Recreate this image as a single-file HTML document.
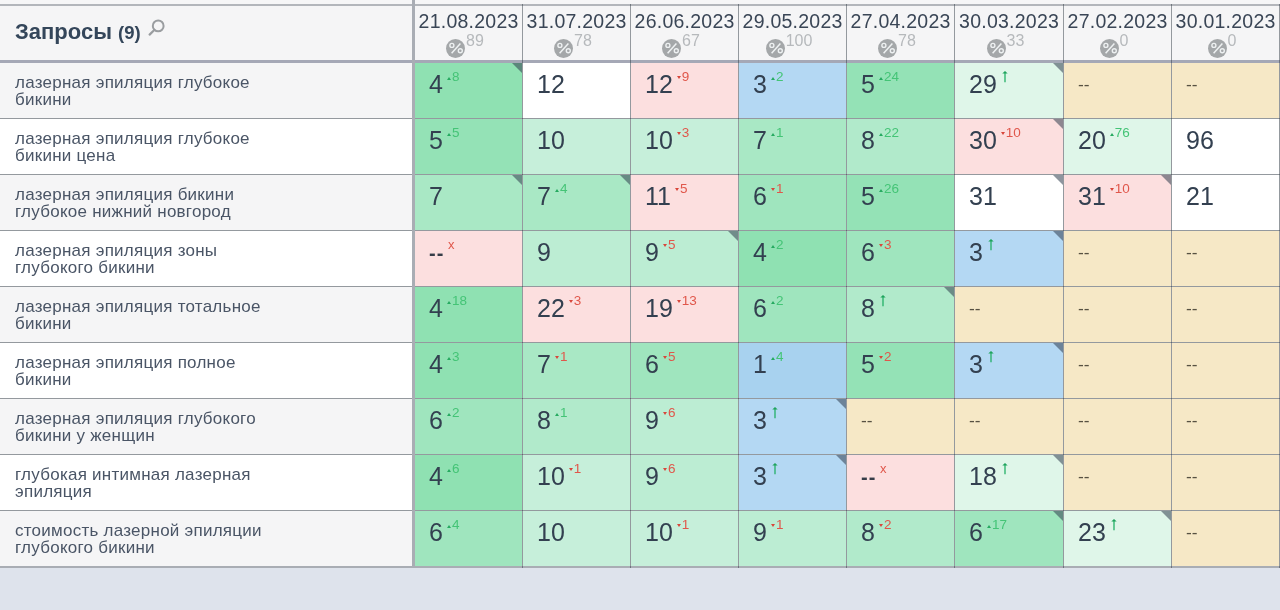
<!DOCTYPE html><html><head><meta charset="utf-8"><style>
*{margin:0;padding:0;box-sizing:border-box}
html,body{width:1280px;height:610px;overflow:hidden;background:#f6f6f7}
body{position:relative;font-family:"Liberation Sans",Arial,sans-serif;-webkit-font-smoothing:antialiased}
.wrap{position:absolute;left:0;top:0;width:1280px;height:610px;will-change:transform}
.a{position:absolute}
.foot{left:0;top:568px;width:1280px;height:42px;background:#dee3ec}
.hl{position:absolute;left:0;width:1280px;height:1px;background:rgba(50,60,70,.5)}
.vl{position:absolute;width:1px;background:rgba(50,60,70,.5)}
.hd{position:absolute;top:6px;height:54px;background:#f5f5f6}
.dt{position:absolute;left:0;right:0;top:8px;text-align:center;font-size:19.5px;line-height:24px;color:#3a4656;white-space:nowrap;letter-spacing:0.25px;text-indent:0.25px}
.pc{position:absolute;left:0;right:0;top:30px;text-align:center;white-space:nowrap;height:30px}
.pcin{display:inline-block;position:relative;height:30px;padding-right:7px}
.pcc{display:inline-block;vertical-align:top;margin-top:9px;width:19px;height:19px;border-radius:50%;background:#a4a7a9;position:relative}
.pcn{display:inline-block;vertical-align:top;font-size:16px;line-height:18px;margin-top:2px;color:#b6b9bc;margin-left:1px}
.kw{position:absolute;left:0;width:412px;height:55px}
.kwt{position:absolute;left:15px;top:12px;font-size:17px;line-height:16.5px;color:#4a5566;white-space:nowrap;letter-spacing:0.25px}
.c{position:absolute;height:55px;overflow:hidden}
.v{position:absolute;top:0;left:14px;font-size:25px;line-height:42px;color:#334050;white-space:nowrap}
.dl{display:inline-block;vertical-align:top;font-size:13.5px;line-height:13px;margin-top:7px;margin-left:4px}
.up{color:#44c476}
.dn{color:#e0574b}
.tri{display:inline-block;width:0;height:0;border-left:2.5px solid transparent;border-right:2.5px solid transparent;vertical-align:top;margin-right:1px}
.tu{border-bottom:3px solid #26aa60;margin-top:7px}
.td{border-top:3px solid #d8463b;margin-top:6px}
.dash{position:absolute;top:0;left:14px;font-family:'DejaVu Sans',sans-serif;font-size:16px;line-height:44px;color:#575142}
.dashb{position:absolute;top:0;left:14px;font-size:20px;font-weight:bold;line-height:45px;color:#363d48;letter-spacing:1px}
.xx{position:absolute;left:33px;top:7px;font-size:13px;line-height:13px;color:#e0574b}
.cor{position:absolute;right:0;top:0;width:0;height:0;border-top:10px solid rgba(50,62,78,.55);border-left:10px solid transparent}
.g4{background:#8fe1b2}.g5{background:#94e2b6}.g6{background:#9fe5be}.g7{background:#a9e8c5}
.g8{background:#b1eacb}.g9{background:#bcedd3}.g10{background:#c6efda}
.lg{background:#dff6e9}.pk{background:#fcdfdf}.wh{background:#ffffff}.be{background:#f6e8c6}
.bl{background:#b4d8f3}.bl1{background:#a8d2ef}
</style></head><body><div class="wrap">
<div class="a foot"></div>
<div class="hd" style="left:0;width:412px"></div>
<div class="a" style="left:15px;top:18px;font-size:22px;line-height:28px;font-weight:bold;color:#34465a;white-space:nowrap">Запросы <span style="font-size:18.5px">(9)</span></div>
<svg class="a" style="left:146px;top:17px" width="22" height="20" viewBox="0 0 22 20"><circle cx="12.2" cy="8.9" r="5.4" fill="none" stroke="#9a9da0" stroke-width="2"/><line x1="8.3" y1="13" x2="3.6" y2="17.6" stroke="#9a9da0" stroke-width="2.2" stroke-linecap="round"/></svg>
<div class="hd" style="left:415px;width:107px"><div class="dt" style="top:3px">21.08.2023</div><div class="pc" style="top:24px"><span class="pcin"><span class="pcc"><svg width="19" height="19" viewBox="0 0 19 19" style="position:absolute;left:0;top:0"><circle cx="5.9" cy="6.4" r="2" fill="none" stroke="#eef1f2" stroke-width="1.4"/><circle cx="14.3" cy="11.8" r="2" fill="none" stroke="#eef1f2" stroke-width="1.4"/><line x1="5.6" y1="14.3" x2="14.4" y2="4.4" stroke="#eef1f2" stroke-width="1.5"/></svg></span><span class="pcn">89</span></span></div></div>
<div class="hd" style="left:523px;width:107px"><div class="dt" style="top:3px">31.07.2023</div><div class="pc" style="top:24px"><span class="pcin"><span class="pcc"><svg width="19" height="19" viewBox="0 0 19 19" style="position:absolute;left:0;top:0"><circle cx="5.9" cy="6.4" r="2" fill="none" stroke="#eef1f2" stroke-width="1.4"/><circle cx="14.3" cy="11.8" r="2" fill="none" stroke="#eef1f2" stroke-width="1.4"/><line x1="5.6" y1="14.3" x2="14.4" y2="4.4" stroke="#eef1f2" stroke-width="1.5"/></svg></span><span class="pcn">78</span></span></div></div>
<div class="hd" style="left:631px;width:107px"><div class="dt" style="top:3px">26.06.2023</div><div class="pc" style="top:24px"><span class="pcin"><span class="pcc"><svg width="19" height="19" viewBox="0 0 19 19" style="position:absolute;left:0;top:0"><circle cx="5.9" cy="6.4" r="2" fill="none" stroke="#eef1f2" stroke-width="1.4"/><circle cx="14.3" cy="11.8" r="2" fill="none" stroke="#eef1f2" stroke-width="1.4"/><line x1="5.6" y1="14.3" x2="14.4" y2="4.4" stroke="#eef1f2" stroke-width="1.5"/></svg></span><span class="pcn">67</span></span></div></div>
<div class="hd" style="left:739px;width:107px"><div class="dt" style="top:3px">29.05.2023</div><div class="pc" style="top:24px"><span class="pcin"><span class="pcc"><svg width="19" height="19" viewBox="0 0 19 19" style="position:absolute;left:0;top:0"><circle cx="5.9" cy="6.4" r="2" fill="none" stroke="#eef1f2" stroke-width="1.4"/><circle cx="14.3" cy="11.8" r="2" fill="none" stroke="#eef1f2" stroke-width="1.4"/><line x1="5.6" y1="14.3" x2="14.4" y2="4.4" stroke="#eef1f2" stroke-width="1.5"/></svg></span><span class="pcn">100</span></span></div></div>
<div class="hd" style="left:847px;width:107px"><div class="dt" style="top:3px">27.04.2023</div><div class="pc" style="top:24px"><span class="pcin"><span class="pcc"><svg width="19" height="19" viewBox="0 0 19 19" style="position:absolute;left:0;top:0"><circle cx="5.9" cy="6.4" r="2" fill="none" stroke="#eef1f2" stroke-width="1.4"/><circle cx="14.3" cy="11.8" r="2" fill="none" stroke="#eef1f2" stroke-width="1.4"/><line x1="5.6" y1="14.3" x2="14.4" y2="4.4" stroke="#eef1f2" stroke-width="1.5"/></svg></span><span class="pcn">78</span></span></div></div>
<div class="hd" style="left:955px;width:108px"><div class="dt" style="top:3px">30.03.2023</div><div class="pc" style="top:24px"><span class="pcin"><span class="pcc"><svg width="19" height="19" viewBox="0 0 19 19" style="position:absolute;left:0;top:0"><circle cx="5.9" cy="6.4" r="2" fill="none" stroke="#eef1f2" stroke-width="1.4"/><circle cx="14.3" cy="11.8" r="2" fill="none" stroke="#eef1f2" stroke-width="1.4"/><line x1="5.6" y1="14.3" x2="14.4" y2="4.4" stroke="#eef1f2" stroke-width="1.5"/></svg></span><span class="pcn">33</span></span></div></div>
<div class="hd" style="left:1064px;width:107px"><div class="dt" style="top:3px">27.02.2023</div><div class="pc" style="top:24px"><span class="pcin"><span class="pcc"><svg width="19" height="19" viewBox="0 0 19 19" style="position:absolute;left:0;top:0"><circle cx="5.9" cy="6.4" r="2" fill="none" stroke="#eef1f2" stroke-width="1.4"/><circle cx="14.3" cy="11.8" r="2" fill="none" stroke="#eef1f2" stroke-width="1.4"/><line x1="5.6" y1="14.3" x2="14.4" y2="4.4" stroke="#eef1f2" stroke-width="1.5"/></svg></span><span class="pcn">0</span></span></div></div>
<div class="hd" style="left:1172px;width:107px"><div class="dt" style="top:3px">30.01.2023</div><div class="pc" style="top:24px"><span class="pcin"><span class="pcc"><svg width="19" height="19" viewBox="0 0 19 19" style="position:absolute;left:0;top:0"><circle cx="5.9" cy="6.4" r="2" fill="none" stroke="#eef1f2" stroke-width="1.4"/><circle cx="14.3" cy="11.8" r="2" fill="none" stroke="#eef1f2" stroke-width="1.4"/><line x1="5.6" y1="14.3" x2="14.4" y2="4.4" stroke="#eef1f2" stroke-width="1.5"/></svg></span><span class="pcn">0</span></span></div></div>
<div class="kw" style="top:63px;background:#f5f5f6"><div class="kwt">лазерная эпиляция глубокое<br>бикини</div></div>
<div class="c g4" style="left:415px;top:63px;width:107px"><div class="v">4<span class="dl up"><span class="tri tu"></span>8</span></div><div class="cor"></div></div>
<div class="c wh" style="left:523px;top:63px;width:107px"><div class="v">12</div></div>
<div class="c pk" style="left:631px;top:63px;width:107px"><div class="v">12<span class="dl dn"><span class="tri td"></span>9</span></div></div>
<div class="c bl" style="left:739px;top:63px;width:107px"><div class="v">3<span class="dl up"><span class="tri tu"></span>2</span></div></div>
<div class="c g5" style="left:847px;top:63px;width:107px"><div class="v">5<span class="dl up"><span class="tri tu"></span>24</span></div></div>
<div class="c lg" style="left:955px;top:63px;width:108px"><div class="v">29<svg width="8" height="14" viewBox="0 0 8 14" style="vertical-align:top;margin-top:7px;margin-left:4px"><path d="M4 12.2V3" stroke="#22b066" stroke-width="1.3"/><path d="M1.3 3.6L4 0.9L6.7 3.6Z" fill="#1fa35d"/></svg></div><div class="cor"></div></div>
<div class="c be" style="left:1064px;top:63px;width:107px"><div class="dash">--</div></div>
<div class="c be" style="left:1172px;top:63px;width:107px"><div class="dash">--</div></div>
<div class="kw" style="top:119px;background:#ffffff"><div class="kwt">лазерная эпиляция глубокое<br>бикини цена</div></div>
<div class="c g5" style="left:415px;top:119px;width:107px"><div class="v">5<span class="dl up"><span class="tri tu"></span>5</span></div></div>
<div class="c g10" style="left:523px;top:119px;width:107px"><div class="v">10</div></div>
<div class="c g10" style="left:631px;top:119px;width:107px"><div class="v">10<span class="dl dn"><span class="tri td"></span>3</span></div></div>
<div class="c g7" style="left:739px;top:119px;width:107px"><div class="v">7<span class="dl up"><span class="tri tu"></span>1</span></div></div>
<div class="c g8" style="left:847px;top:119px;width:107px"><div class="v">8<span class="dl up"><span class="tri tu"></span>22</span></div></div>
<div class="c pk" style="left:955px;top:119px;width:108px"><div class="v">30<span class="dl dn"><span class="tri td"></span>10</span></div><div class="cor"></div></div>
<div class="c lg" style="left:1064px;top:119px;width:107px"><div class="v">20<span class="dl up"><span class="tri tu"></span>76</span></div></div>
<div class="c wh" style="left:1172px;top:119px;width:107px"><div class="v">96</div></div>
<div class="kw" style="top:175px;background:#f5f5f6"><div class="kwt">лазерная эпиляция бикини<br>глубокое нижний новгород</div></div>
<div class="c g7" style="left:415px;top:175px;width:107px"><div class="v">7</div><div class="cor"></div></div>
<div class="c g7" style="left:523px;top:175px;width:107px"><div class="v">7<span class="dl up"><span class="tri tu"></span>4</span></div><div class="cor"></div></div>
<div class="c pk" style="left:631px;top:175px;width:107px"><div class="v">11<span class="dl dn"><span class="tri td"></span>5</span></div></div>
<div class="c g6" style="left:739px;top:175px;width:107px"><div class="v">6<span class="dl dn"><span class="tri td"></span>1</span></div></div>
<div class="c g5" style="left:847px;top:175px;width:107px"><div class="v">5<span class="dl up"><span class="tri tu"></span>26</span></div></div>
<div class="c wh" style="left:955px;top:175px;width:108px"><div class="v">31</div><div class="cor"></div></div>
<div class="c pk" style="left:1064px;top:175px;width:107px"><div class="v">31<span class="dl dn"><span class="tri td"></span>10</span></div><div class="cor"></div></div>
<div class="c wh" style="left:1172px;top:175px;width:107px"><div class="v">21</div></div>
<div class="kw" style="top:231px;background:#ffffff"><div class="kwt">лазерная эпиляция зоны<br>глубокого бикини</div></div>
<div class="c pk" style="left:415px;top:231px;width:107px"><div class="dashb">--</div><div class="xx">x</div></div>
<div class="c g9" style="left:523px;top:231px;width:107px"><div class="v">9</div></div>
<div class="c g9" style="left:631px;top:231px;width:107px"><div class="v">9<span class="dl dn"><span class="tri td"></span>5</span></div><div class="cor"></div></div>
<div class="c g4" style="left:739px;top:231px;width:107px"><div class="v">4<span class="dl up"><span class="tri tu"></span>2</span></div></div>
<div class="c g6" style="left:847px;top:231px;width:107px"><div class="v">6<span class="dl dn"><span class="tri td"></span>3</span></div></div>
<div class="c bl" style="left:955px;top:231px;width:108px"><div class="v">3<svg width="8" height="14" viewBox="0 0 8 14" style="vertical-align:top;margin-top:7px;margin-left:4px"><path d="M4 12.2V3" stroke="#22b066" stroke-width="1.3"/><path d="M1.3 3.6L4 0.9L6.7 3.6Z" fill="#1fa35d"/></svg></div><div class="cor"></div></div>
<div class="c be" style="left:1064px;top:231px;width:107px"><div class="dash">--</div></div>
<div class="c be" style="left:1172px;top:231px;width:107px"><div class="dash">--</div></div>
<div class="kw" style="top:287px;background:#f5f5f6"><div class="kwt">лазерная эпиляция тотальное<br>бикини</div></div>
<div class="c g4" style="left:415px;top:287px;width:107px"><div class="v">4<span class="dl up"><span class="tri tu"></span>18</span></div></div>
<div class="c pk" style="left:523px;top:287px;width:107px"><div class="v">22<span class="dl dn"><span class="tri td"></span>3</span></div></div>
<div class="c pk" style="left:631px;top:287px;width:107px"><div class="v">19<span class="dl dn"><span class="tri td"></span>13</span></div></div>
<div class="c g6" style="left:739px;top:287px;width:107px"><div class="v">6<span class="dl up"><span class="tri tu"></span>2</span></div></div>
<div class="c g8" style="left:847px;top:287px;width:107px"><div class="v">8<svg width="8" height="14" viewBox="0 0 8 14" style="vertical-align:top;margin-top:7px;margin-left:4px"><path d="M4 12.2V3" stroke="#22b066" stroke-width="1.3"/><path d="M1.3 3.6L4 0.9L6.7 3.6Z" fill="#1fa35d"/></svg></div><div class="cor"></div></div>
<div class="c be" style="left:955px;top:287px;width:108px"><div class="dash">--</div></div>
<div class="c be" style="left:1064px;top:287px;width:107px"><div class="dash">--</div></div>
<div class="c be" style="left:1172px;top:287px;width:107px"><div class="dash">--</div></div>
<div class="kw" style="top:343px;background:#ffffff"><div class="kwt">лазерная эпиляция полное<br>бикини</div></div>
<div class="c g4" style="left:415px;top:343px;width:107px"><div class="v">4<span class="dl up"><span class="tri tu"></span>3</span></div></div>
<div class="c g7" style="left:523px;top:343px;width:107px"><div class="v">7<span class="dl dn"><span class="tri td"></span>1</span></div></div>
<div class="c g6" style="left:631px;top:343px;width:107px"><div class="v">6<span class="dl dn"><span class="tri td"></span>5</span></div></div>
<div class="c bl1" style="left:739px;top:343px;width:107px"><div class="v">1<span class="dl up"><span class="tri tu"></span>4</span></div></div>
<div class="c g5" style="left:847px;top:343px;width:107px"><div class="v">5<span class="dl dn"><span class="tri td"></span>2</span></div></div>
<div class="c bl" style="left:955px;top:343px;width:108px"><div class="v">3<svg width="8" height="14" viewBox="0 0 8 14" style="vertical-align:top;margin-top:7px;margin-left:4px"><path d="M4 12.2V3" stroke="#22b066" stroke-width="1.3"/><path d="M1.3 3.6L4 0.9L6.7 3.6Z" fill="#1fa35d"/></svg></div><div class="cor"></div></div>
<div class="c be" style="left:1064px;top:343px;width:107px"><div class="dash">--</div></div>
<div class="c be" style="left:1172px;top:343px;width:107px"><div class="dash">--</div></div>
<div class="kw" style="top:399px;background:#f5f5f6"><div class="kwt">лазерная эпиляция глубокого<br>бикини у женщин</div></div>
<div class="c g6" style="left:415px;top:399px;width:107px"><div class="v">6<span class="dl up"><span class="tri tu"></span>2</span></div></div>
<div class="c g8" style="left:523px;top:399px;width:107px"><div class="v">8<span class="dl up"><span class="tri tu"></span>1</span></div></div>
<div class="c g9" style="left:631px;top:399px;width:107px"><div class="v">9<span class="dl dn"><span class="tri td"></span>6</span></div></div>
<div class="c bl" style="left:739px;top:399px;width:107px"><div class="v">3<svg width="8" height="14" viewBox="0 0 8 14" style="vertical-align:top;margin-top:7px;margin-left:4px"><path d="M4 12.2V3" stroke="#22b066" stroke-width="1.3"/><path d="M1.3 3.6L4 0.9L6.7 3.6Z" fill="#1fa35d"/></svg></div><div class="cor"></div></div>
<div class="c be" style="left:847px;top:399px;width:107px"><div class="dash">--</div></div>
<div class="c be" style="left:955px;top:399px;width:108px"><div class="dash">--</div></div>
<div class="c be" style="left:1064px;top:399px;width:107px"><div class="dash">--</div></div>
<div class="c be" style="left:1172px;top:399px;width:107px"><div class="dash">--</div></div>
<div class="kw" style="top:455px;background:#ffffff"><div class="kwt">глубокая интимная лазерная<br>эпиляция</div></div>
<div class="c g4" style="left:415px;top:455px;width:107px"><div class="v">4<span class="dl up"><span class="tri tu"></span>6</span></div></div>
<div class="c g10" style="left:523px;top:455px;width:107px"><div class="v">10<span class="dl dn"><span class="tri td"></span>1</span></div></div>
<div class="c g9" style="left:631px;top:455px;width:107px"><div class="v">9<span class="dl dn"><span class="tri td"></span>6</span></div></div>
<div class="c bl" style="left:739px;top:455px;width:107px"><div class="v">3<svg width="8" height="14" viewBox="0 0 8 14" style="vertical-align:top;margin-top:7px;margin-left:4px"><path d="M4 12.2V3" stroke="#22b066" stroke-width="1.3"/><path d="M1.3 3.6L4 0.9L6.7 3.6Z" fill="#1fa35d"/></svg></div><div class="cor"></div></div>
<div class="c pk" style="left:847px;top:455px;width:107px"><div class="dashb">--</div><div class="xx">x</div></div>
<div class="c lg" style="left:955px;top:455px;width:108px"><div class="v">18<svg width="8" height="14" viewBox="0 0 8 14" style="vertical-align:top;margin-top:7px;margin-left:4px"><path d="M4 12.2V3" stroke="#22b066" stroke-width="1.3"/><path d="M1.3 3.6L4 0.9L6.7 3.6Z" fill="#1fa35d"/></svg></div><div class="cor"></div></div>
<div class="c be" style="left:1064px;top:455px;width:107px"><div class="dash">--</div></div>
<div class="c be" style="left:1172px;top:455px;width:107px"><div class="dash">--</div></div>
<div class="kw" style="top:511px;background:#f5f5f6"><div class="kwt">стоимость лазерной эпиляции<br>глубокого бикини</div></div>
<div class="c g6" style="left:415px;top:511px;width:107px"><div class="v">6<span class="dl up"><span class="tri tu"></span>4</span></div></div>
<div class="c g10" style="left:523px;top:511px;width:107px"><div class="v">10</div></div>
<div class="c g10" style="left:631px;top:511px;width:107px"><div class="v">10<span class="dl dn"><span class="tri td"></span>1</span></div></div>
<div class="c g9" style="left:739px;top:511px;width:107px"><div class="v">9<span class="dl dn"><span class="tri td"></span>1</span></div></div>
<div class="c g8" style="left:847px;top:511px;width:107px"><div class="v">8<span class="dl dn"><span class="tri td"></span>2</span></div></div>
<div class="c g6" style="left:955px;top:511px;width:108px"><div class="v">6<span class="dl up"><span class="tri tu"></span>17</span></div><div class="cor"></div></div>
<div class="c lg" style="left:1064px;top:511px;width:107px"><div class="v">23<svg width="8" height="14" viewBox="0 0 8 14" style="vertical-align:top;margin-top:7px;margin-left:4px"><path d="M4 12.2V3" stroke="#22b066" stroke-width="1.3"/><path d="M1.3 3.6L4 0.9L6.7 3.6Z" fill="#1fa35d"/></svg></div><div class="cor"></div></div>
<div class="c be" style="left:1172px;top:511px;width:107px"><div class="dash">--</div></div>
<div class="hl" style="top:4px;height:2px;background:#b3b6bb"></div>
<div class="hl" style="top:60px;height:3px;background:#a5a8b6"></div>
<div class="hl" style="top:118px"></div>
<div class="hl" style="top:174px"></div>
<div class="hl" style="top:230px"></div>
<div class="hl" style="top:286px"></div>
<div class="hl" style="top:342px"></div>
<div class="hl" style="top:398px"></div>
<div class="hl" style="top:454px"></div>
<div class="hl" style="top:510px"></div>
<div class="hl" style="top:566px;height:2px;background:#a9adb4"></div>
<div class="vl" style="left:412px;top:0;height:568px;width:3px;background:#a9adb4"></div>
<div class="vl" style="left:522px;top:4px;height:564px"></div>
<div class="vl" style="left:630px;top:4px;height:564px"></div>
<div class="vl" style="left:738px;top:4px;height:564px"></div>
<div class="vl" style="left:846px;top:4px;height:564px"></div>
<div class="vl" style="left:954px;top:4px;height:564px"></div>
<div class="vl" style="left:1063px;top:4px;height:564px"></div>
<div class="vl" style="left:1171px;top:4px;height:564px"></div>
<div class="vl" style="left:1279px;top:4px;height:564px"></div>
</div></body></html>
